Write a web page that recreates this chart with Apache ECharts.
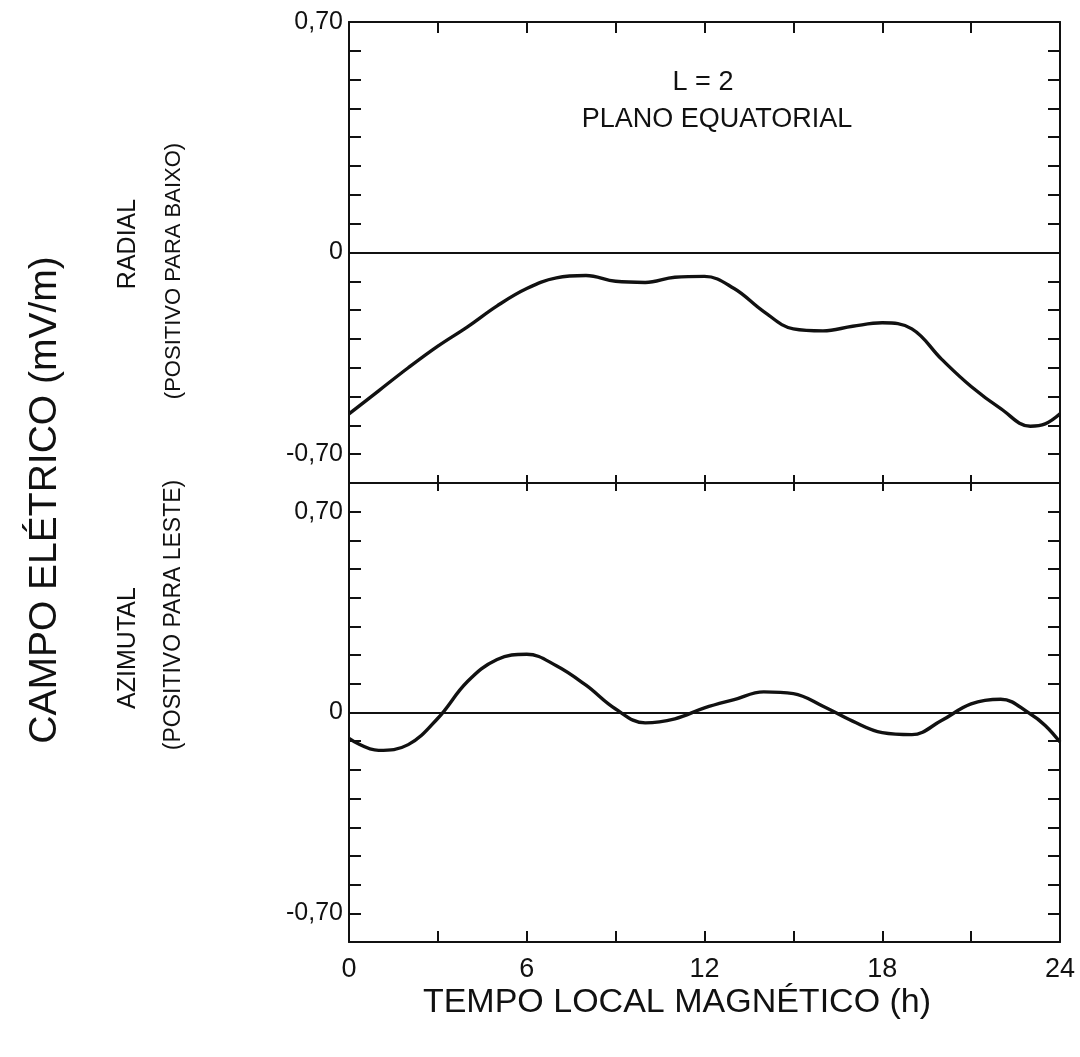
<!DOCTYPE html>
<html><head><meta charset="utf-8">
<script src="https://cdn.jsdelivr.net/npm/echarts@6/dist/echarts.min.js"></script>
<style>html,body{margin:0;padding:0;background:#fff}#c{width:1080px;height:1057px}</style>
</head><body><div id="c"></div>
<script>
// Radial component (top panel), hours vs mV/m
const radialHours = [0, 1, 2, 3, 4, 5, 6, 7, 8, 9, 10, 11, 12, 13, 14, 15, 16, 17, 18, 19, 20, 21, 22, 23, 23.5, 24];
const radialValues = [-0.56, -0.48, -0.40, -0.325, -0.258, -0.185, -0.125, -0.088, -0.080, -0.100, -0.104, -0.086, -0.083, -0.125, -0.205, -0.265, -0.272, -0.256, -0.244, -0.265, -0.37, -0.465, -0.542, -0.603, -0.595, -0.56];
// Azimuthal component (bottom panel)
const azimHours = [0, 1, 2, 3, 4, 5, 6, 7, 8, 9, 10, 11, 12, 13, 14, 15, 16, 17, 18, 19, 20, 21, 22, 23, 23.5, 24];
const azimValues = [-0.09, -0.132, -0.112, -0.02, 0.108, 0.185, 0.203, 0.163, 0.095, 0.012, -0.036, -0.022, 0.016, 0.045, 0.072, 0.066, 0.022, -0.03, -0.07, -0.077, -0.028, 0.03, 0.046, -0.005, -0.045, -0.103];
// Tick labels
const xLabelValues = [0, 6, 12, 18, 24];
const topYLabelValues = [0.8, 0, -0.7];
const topYLabels = ['0,70', '0', '-0,70'];
const bottomYLabelValues = [0.7, 0, -0.7];
const bottomYLabels = ['0,70', '0', '-0,70'];

const FONT = 'Liberation Sans, Arial, sans-serif';
const INK = '#111';

function pairs(xs, ys) { return xs.map((x, i) => [x, ys[i]]); }
function lookup(vals, labels) {
  return function (v) {
    for (let i = 0; i < vals.length; i++) if (Math.abs(v - vals[i]) < 1e-6) return labels[i];
    return '';
  };
}

const G = [
  { left: 349, top: 22, width: 711, height: 461 },
  { left: 349, top: 483, width: 711, height: 459 }
];

function xAx(grid, pos, len, labels) {
  return {
    type: 'value', gridIndex: grid, position: pos, min: 0, max: 24, interval: 3,
    axisLine: { show: true, onZero: false, lineStyle: { color: INK, width: 2 } },
    axisTick: { show: true, inside: true, length: len, lineStyle: { color: INK, width: 2 } },
    splitLine: { show: false },
    axisLabel: labels ? {
      show: true, margin: 14, color: INK, fontSize: 27, fontFamily: FONT,
      formatter: v => xLabelValues.some(t => Math.abs(t - v) < 1e-6) ? String(v) : ''
    } : { show: false }
  };
}
function yAx(grid, pos, fmt) {
  return {
    type: 'value', gridIndex: grid, position: pos, min: -0.8, max: 0.8, interval: 0.1,
    axisLine: { show: true, onZero: false, lineStyle: { color: INK, width: 2 } },
    axisTick: { show: true, inside: true, length: 12, lineStyle: { color: INK, width: 2 } },
    splitLine: { show: false },
    axisLabel: fmt ? {
      show: true, margin: 6, color: INK, fontSize: 25, fontFamily: FONT,
      showMinLabel: true, showMaxLabel: true, formatter: fmt
    } : { show: false }
  };
}

const zeroLine = {
  silent: true, symbol: 'none', label: { show: false },
  lineStyle: { color: INK, width: 1.8, type: 'solid' },
  data: [{ yAxis: 0 }]
};

const chart = echarts.init(document.getElementById('c'));
chart.setOption({
  animation: false,
  backgroundColor: '#fff',
  grid: G,
  xAxis: [
    xAx(0, 'bottom', 8, false),
    xAx(0, 'top', 11, false),
    xAx(1, 'top', 8, false),
    xAx(1, 'bottom', 11, true)
  ],
  yAxis: [
    yAx(0, 'left', lookup(topYLabelValues, topYLabels)),
    yAx(0, 'right', null),
    yAx(1, 'left', lookup(bottomYLabelValues, bottomYLabels)),
    yAx(1, 'right', null)
  ],
  series: [
    {
      type: 'line', xAxisIndex: 0, yAxisIndex: 0, data: pairs(radialHours, radialValues),
      smooth: 0.4, symbol: 'none', lineStyle: { color: INK, width: 3.4 }, markLine: zeroLine
    },
    {
      type: 'line', xAxisIndex: 3, yAxisIndex: 2, data: pairs(azimHours, azimValues),
      smooth: 0.4, symbol: 'none', lineStyle: { color: INK, width: 3.4 }, markLine: zeroLine
    }
  ],
  graphic: [
    { type: 'text', x: 703, y: 83, style: { text: 'L = 2', fill: INK, font: '27px ' + FONT, textAlign: 'center', textVerticalAlign: 'middle' } },
    { type: 'text', x: 717, y: 120, style: { text: 'PLANO EQUATORIAL', fill: INK, font: '27px ' + FONT, textAlign: 'center', textVerticalAlign: 'middle' } },
    { type: 'text', x: 45, y: 500, rotation: Math.PI / 2, style: { text: 'CAMPO ELÉTRICO (mV/m)', fill: INK, font: '39px ' + FONT, textAlign: 'center', textVerticalAlign: 'middle' } },
    { type: 'text', x: 128, y: 244, rotation: Math.PI / 2, style: { text: 'RADIAL', fill: INK, font: '25px ' + FONT, textAlign: 'center', textVerticalAlign: 'middle' } },
    { type: 'text', x: 174, y: 271, rotation: Math.PI / 2, style: { text: '(POSITIVO PARA BAIXO)', fill: INK, font: '22px ' + FONT, textAlign: 'center', textVerticalAlign: 'middle' } },
    { type: 'text', x: 128, y: 648, rotation: Math.PI / 2, style: { text: 'AZIMUTAL', fill: INK, font: '25px ' + FONT, textAlign: 'center', textVerticalAlign: 'middle' } },
    { type: 'text', x: 174, y: 615, rotation: Math.PI / 2, style: { text: '(POSITIVO PARA LESTE)', fill: INK, font: '23px ' + FONT, textAlign: 'center', textVerticalAlign: 'middle' } },
    { type: 'text', x: 677, y: 1003, style: { text: 'TEMPO LOCAL MAGNÉTICO (h)', fill: INK, font: '34px ' + FONT, textAlign: 'center', textVerticalAlign: 'middle' } }
  ]
});
</script>
</body></html>
